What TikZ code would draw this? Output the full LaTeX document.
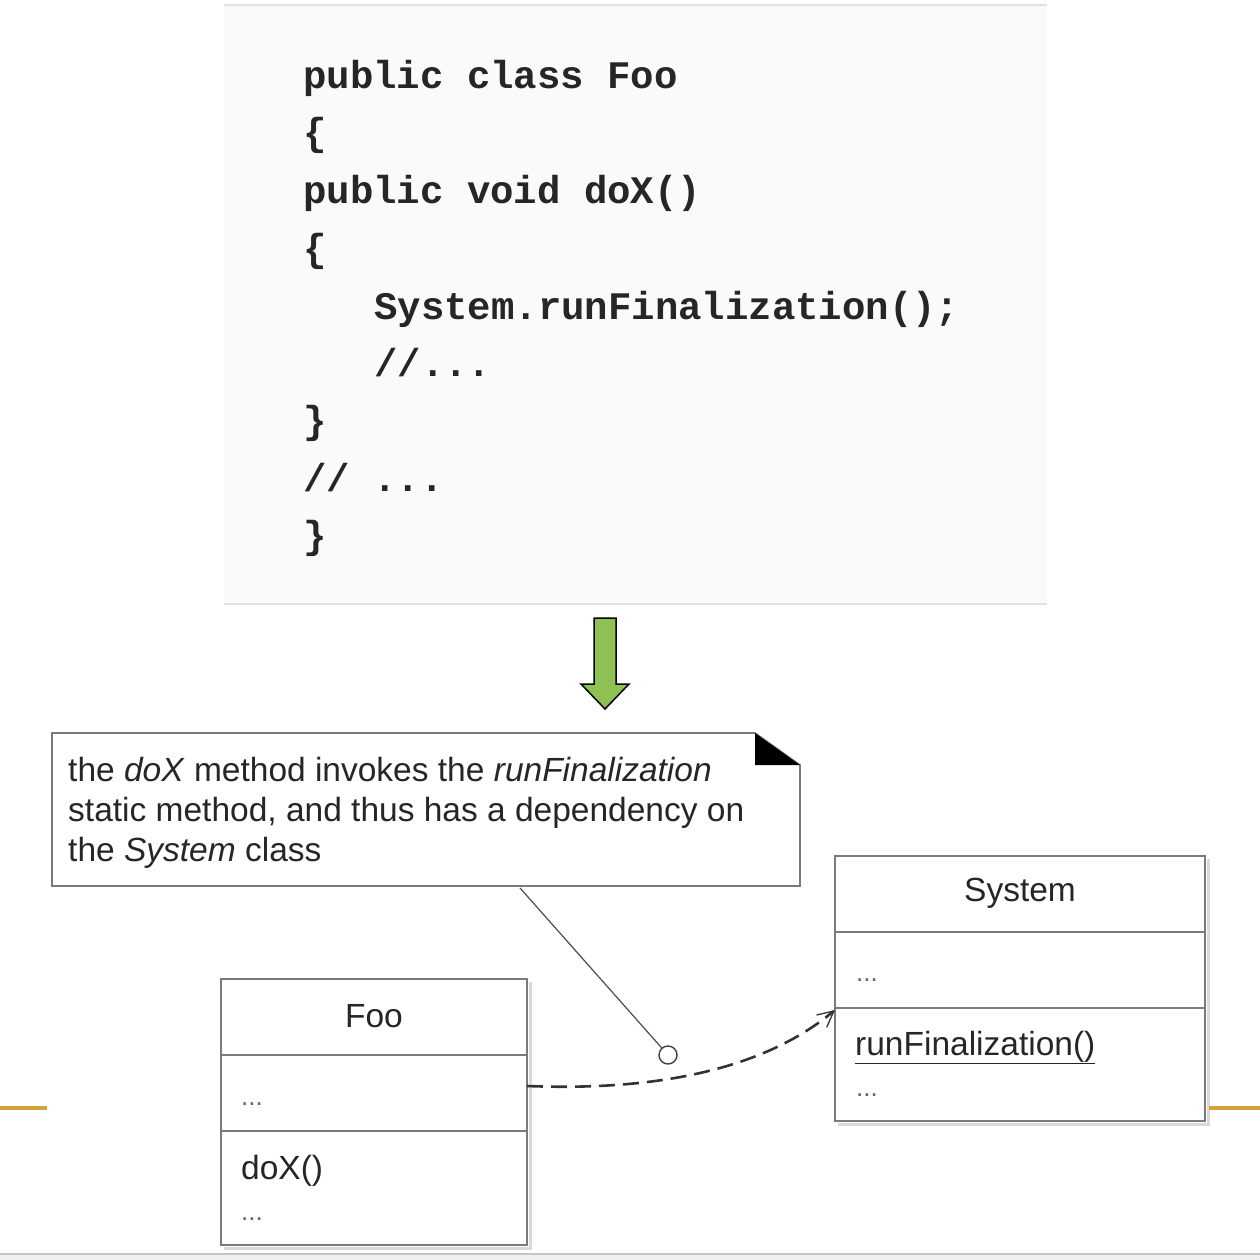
\documentclass[tikz,border=0pt]{standalone}
\usepackage{fontspec}
\setmainfont{Liberation Sans}
\newfontfamily\codefont{Liberation Mono}
\usetikzlibrary{arrows.meta}
\definecolor{codebg}{HTML}{FAFAFA}
\definecolor{codeline}{HTML}{E2E2E2}
\definecolor{boxline}{HTML}{7A7A7A}
\definecolor{arrowgreen}{HTML}{8DC153}
\definecolor{gold}{HTML}{D4A23A}
\definecolor{footgray}{HTML}{C2C6CA}
\definecolor{footfill}{HTML}{F0F0F0}
\tikzset{
  code/.style={anchor=base west, inner sep=0pt, font=\codefont\bfseries\fontsize{39}{39}\selectfont, text=black!85},
  uml/.style={inner sep=0pt, font=\fontsize{33.5}{40}\selectfont, text=black!85},
  dots/.style={anchor=base west, inner sep=0pt, font=\fontsize{26}{30}\selectfont, text=black!60},
  umlbox/.style={draw=boxline, line width=1.6pt},
  shadowline/.style={draw=black!15, line width=3pt}
}
\begin{document}
\begin{tikzpicture}[x=1pt,y=-1pt]
\useasboundingbox (0,0) rectangle (1260,1260);
% code block
\fill[codebg] (224,5) rectangle (1047,604);
\draw[codeline, line width=1.5pt] (224,5) -- (1047,5);
\draw[codeline, line width=1.5pt] (224,604) -- (1047,604);
\node[code] (c1) at (303,89) {public class Foo};
\node[code] (c2) at (303,146) {\{};
\node[code] (c3) at (303,204) {public void doX()};
\node[code] (c4) at (303,261) {\{};
\node[code] (c5) at (374,319) {System.runFinalization();};
\node[code] (c6) at (374,376) {//...};
\node[code] (c7) at (303,433) {\}};
\node[code] (c8) at (303,491) {// ...};
\node[code] (c9) at (303,548) {\}};
% green arrow
\draw[fill=arrowgreen, draw=black, line width=1.5pt, line join=miter]
  (594,618) -- (616,618) -- (616,684) -- (629,684) -- (605,709) -- (581,684) -- (594,684) -- cycle;
% note
\draw[draw=boxline, line width=1.6pt, fill=white] (52,733) -- (755,733) -- (800,765) -- (800,886) -- (52,886) -- cycle;
\fill[black] (755,733) -- (755,765) -- (800,765) -- cycle;
\node[uml, anchor=base west] (n1) at (68,781) {the \textit{doX} method invokes the \textit{runFinalization}};
\node[uml, anchor=base west] (n2) at (68,821) {static method, and thus has a dependency on};
\node[uml, anchor=base west] (n3) at (68,861) {the \textit{System} class};
\coordinate (nanchor) at (520,888);
% System class
\draw[shadowline] (838,1124) -- (1208,1124) -- (1208,859);
\draw[umlbox, fill=white] (835,856) rectangle (1205,1121);
\draw[umlbox] (835,932) -- (1205,932);
\draw[umlbox] (835,1008) -- (1205,1008);
\node[uml] (sysname) at (1020,893) {System};
\node[dots] (sysattr) at (856,981) {...};
\node[uml, anchor=base west] (sysop) at (855,1055) {\underline{runFinalization()}};
\node[dots] (sysop2) at (856,1096) {...};
\coordinate (systarget) at (835,1010);
% Foo class
\draw[shadowline] (224,1248) -- (530,1248) -- (530,982);
\draw[umlbox, fill=white] (221,979) rectangle (527,1245);
\draw[umlbox] (221,1055) -- (527,1055);
\draw[umlbox] (221,1131) -- (527,1131);
\node[uml] (fooname) at (374,1016) {Foo};
\node[dots] (fooattr) at (241,1105) {...};
\node[uml, anchor=base west] (fooop) at (241,1179) {doX()};
\node[dots] (fooop2) at (241,1220) {...};
\coordinate (foosrc) at (527,1086);
% note connector
\node[circle, draw=black!75, line width=1.4pt, minimum size=18pt, inner sep=0pt] (ncirc) at (668,1055) {};
\draw[black!70, line width=1.2pt] (nanchor) -- (ncirc);
% dependency
\draw[black!80, line width=2.6pt, dash pattern=on 16pt off 8pt, -{Straight Barb[length=16pt, width=16pt, line width=1.3pt]}]
  (foosrc) .. controls (680,1092) and (775,1060) .. (systarget);
% gold lines
\draw[gold, line width=4pt] (0,1108) -- (47,1108);
\draw[gold, line width=4pt] (1209,1108) -- (1260,1108);
% footer
\fill[footfill] (0,1255) rectangle (1260,1260);
\draw[footgray, line width=2.5pt] (0,1254) -- (1260,1254);
\end{tikzpicture}
\end{document}
